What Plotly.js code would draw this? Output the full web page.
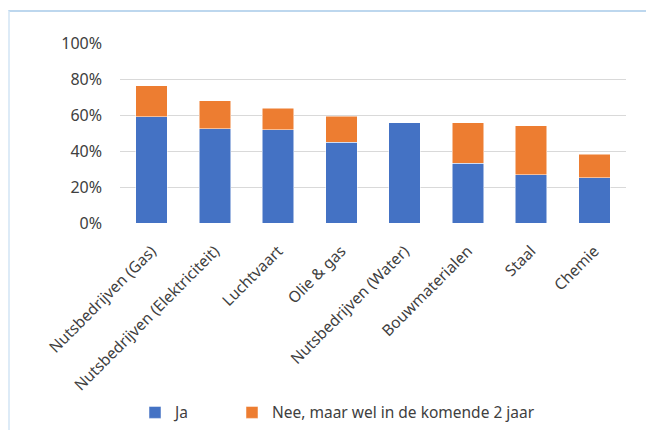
<!DOCTYPE html>
<html>
<head>
<meta charset="utf-8">
<script src="https://cdn.plot.ly/plotly-3.0.1.min.js"></script>
<style>
  html, body { margin: 0; padding: 0; background: #ffffff; }
  #wrap { position: relative; width: 646px; height: 430px; overflow: hidden; }
  #chart { position: absolute; left: 0; top: 0; width: 646px; height: 430px; }
  #frame { position: absolute; left: 8px; top: 10px; width: 700px; height: 500px;
           border-top: 2px solid #BDD7EE; border-left: 2px solid #DDEBF7; pointer-events: none; }
</style>
</head>
<body>
<div id="wrap">
  <div id="chart"></div>
  <div id="frame"></div>
</div>
<script>
const categories = ["Nutsbedrijven (Gas)", "Nutsbedrijven (Elektriciteit)", "Luchtvaart", "Olie & gas",
                    "Nutsbedrijven (Water)", "Bouwmaterialen", "Staal", "Chemie"];
const jaValues  = [0.589, 0.524, 0.518, 0.448, 0.556, 0.333, 0.267, 0.252];
const neeValues = [0.174, 0.154, 0.119, 0.146, 0.000, 0.223, 0.272, 0.130];
const seriesNames = ["Ja", "Nee, maar wel in de komende 2 jaar"];
const yTickVals = [0, 0.2, 0.4, 0.6, 0.8, 1.0];
const yTickText = ["0%", "20%", "40%", "60%", "80%", "100%"];

const FONT = "Noto Sans, Open Sans, sans-serif";
const TXT = "#404040";
const traces = [
  { type: "bar", name: seriesNames[0], x: categories, y: jaValues, legend: "legend",
    marker: { color: "#4472C4", line: { color: "#ffffff", width: 0.5 } } },
  { type: "bar", name: seriesNames[1], x: categories, y: neeValues, legend: "legend2",
    marker: { color: "#ED7D31", line: { color: "#ffffff", width: 0.5 } } }
];
const legendBase = {
  orientation: "h", xref: "container", xanchor: "left",
  yref: "container", y: 0.04, yanchor: "middle",
  font: { family: FONT, size: 15.5, color: TXT }, itemwidth: 30,
  bgcolor: "rgba(0,0,0,0)"
};
const layout = {
  width: 646, height: 430,
  margin: { l: 120, r: 20, t: 43, b: 207, pad: 0 },
  barmode: "stack", bargap: 0.5,
  paper_bgcolor: "rgba(0,0,0,0)", plot_bgcolor: "#ffffff",
  font: { family: FONT, size: 15, color: TXT },
  xaxis: { tickangle: -45, showgrid: false, showline: false, ticks: "", ticklabelstandoff: 15,
           tickfont: { family: FONT, size: 15.5, color: TXT }, automargin: false },
  yaxis: { range: [0, 1.0], tickvals: yTickVals, ticktext: yTickText,
           showgrid: true, gridcolor: "#D9D9D9", gridwidth: 1, zeroline: false, showline: false,
           ticks: "", ticklabelstandoff: 17,
           tickfont: { family: FONT, size: 16, color: TXT }, automargin: false },
  showlegend: true,
  legend: Object.assign({}, legendBase, { x: 135 / 646 }),
  legend2: Object.assign({}, legendBase, { x: 232 / 646 })
};
Plotly.newPlot("chart", traces, layout, { displayModeBar: false, staticPlot: true });
</script>
</body>
</html>
